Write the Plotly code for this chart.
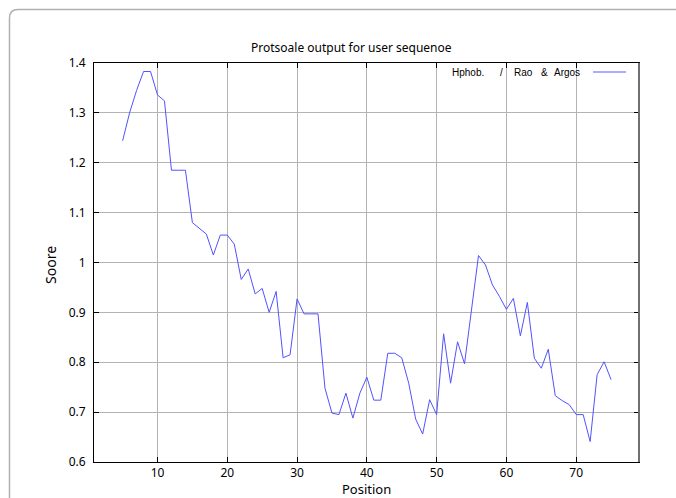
import plotly.graph_objects as go

# Hydrophobicity profile (window average) along the sequence
positions = list(range(5, 76))
scores = [
    1.244, 1.300, 1.345, 1.383, 1.383, 1.336, 1.324, 1.185, 1.185, 1.185,
    1.080, 1.069, 1.057, 1.015, 1.055, 1.055, 1.037, 0.966, 0.987, 0.937,
    0.948, 0.900, 0.942, 0.809, 0.815, 0.927, 0.897, 0.897, 0.897, 0.748,
    0.698, 0.695, 0.738, 0.688, 0.738, 0.770, 0.724, 0.724, 0.818, 0.818,
    0.809, 0.758, 0.686, 0.656, 0.725, 0.695, 0.857, 0.758, 0.841, 0.797,
    0.905, 1.014, 0.995, 0.955, 0.932, 0.906, 0.928, 0.853, 0.920, 0.808,
    0.788, 0.826, 0.733, 0.723, 0.715, 0.695, 0.695, 0.641, 0.775, 0.801,
    0.765,
]
x_ticks = [10, 20, 30, 40, 50, 60, 70]
y_ticks = [0.6, 0.7, 0.8, 0.9, 1.0, 1.1, 1.2, 1.3, 1.4]
y_tick_text = ["0.6", "0.7", "0.8", "0.9", "1", "1.1", "1.2", "1.3", "1.4"]
legend_words = ["Hphob.", "/", "Rao", "&", "Argos"]
legend_word_px = [450, 498, 512, 539, 552]

W, H = 676, 498
L, R, T, B = 94, 639, 63, 462
LINE_COLOR = "#5252ff"
FONT = "Noto Sans"


def px(x):
    return (x - L) / (R - L)


def py(y):
    return (B - y) / (B - T)


fig = go.Figure()
fig.add_trace(go.Scatter(
    x=positions, y=scores, mode="lines",
    line=dict(color=LINE_COLOR, width=1),
    name="Hphob. / Rao & Argos", showlegend=False,
))

axis_common = dict(
    showgrid=True, gridcolor="#b3b3b3", gridwidth=1,
    showline=True, linecolor="black", linewidth=1, mirror="ticks",
    ticks="inside", ticklen=5, tickcolor="black", tickwidth=1,
    zeroline=False,
    tickfont=dict(family=FONT, size=12, color="black"),
)

fig.update_layout(
    width=W, height=H,
    margin=dict(l=L, r=W - R, t=T, b=H - B),
    paper_bgcolor="white", plot_bgcolor="white",
    showlegend=False,
    xaxis=dict(range=[0.9, 79], tickvals=x_ticks, ticklabelstandoff=0, **axis_common),
    yaxis=dict(range=[0.6, 1.4], tickvals=y_ticks, ticktext=y_tick_text,
               ticklabelstandoff=5, **axis_common),
)

annotations = [
    dict(text="Protsoale output for user sequenoe", x=px(351), y=py(48),
         font=dict(family=FONT, size=12, color="black")),
    dict(text="Soore", x=px(50), y=py(265), textangle=-90,
         font=dict(family=FONT, size=14, color="black")),
    dict(text="Position", x=px(366), y=py(489),
         font=dict(family=FONT, size=13, color="black")),
]
for word, wx in zip(legend_words, legend_word_px):
    annotations.append(dict(
        text=word, x=px(wx), y=py(72), xanchor="left",
        font=dict(family="Liberation Sans", size=10, color="black"),
    ))
for a in annotations:
    a.update(xref="paper", yref="paper", showarrow=False)
    a.setdefault("xanchor", "center")
    a.setdefault("yanchor", "middle")
fig.update_layout(annotations=annotations)

shapes = [
    # key sample for the profile line
    dict(type="line", x0=px(593), x1=px(626), y0=py(72), y1=py(72),
         line=dict(color="#8f8fff", width=1.5)),
    # right border of the plot box
    dict(type="line", x0=1, x1=1, y0=0, y1=1,
         line=dict(color="#707070", width=2)),
    # rounded outer frame
    dict(type="path",
         path=(f"M {px(9.5)},{py(510)} L {px(9.5)},{py(18)} "
               f"Q {px(9.5)},{py(9.5)} {px(18)},{py(9.5)} L {px(690)},{py(9.5)}"),
         line=dict(color="#b0b0b0", width=1.5)),
]
for s in shapes:
    s.update(xref="paper", yref="paper", layer="above")
fig.update_layout(shapes=shapes)

fig.write_html("out.html")
